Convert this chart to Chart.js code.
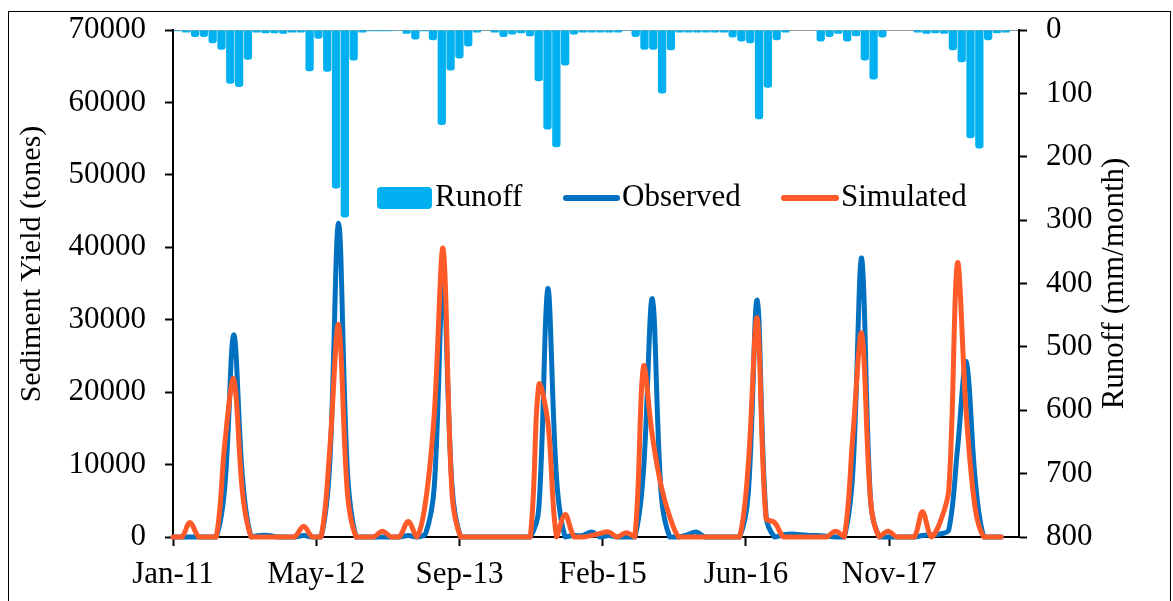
<!DOCTYPE html>
<html>
<head>
<meta charset="utf-8">
<title>Sediment yield and runoff</title>
<script src="https://cdn.jsdelivr.net/npm/chart.js@4.4.1/dist/chart.umd.min.js"></script>
<style>
    html, body { margin: 0; padding: 0; background: #fff; overflow: hidden; }
    #wrap { position: relative; width: 1173px; height: 601px; }
    #chart { position: absolute; left: 0; top: 0; }
    #frame { position: absolute; left: 8px; top: 11px; width: 1161px; height: 640px; border: 1px solid #000; pointer-events: none; }
</style>
</head>
<body>
<div id="wrap">
    <canvas id="chart" width="1173" height="601"></canvas>
    <div id="frame"></div>
</div>
<script>
// Monthly series, Jan 2011 - Dec 2018
const years = [2011, 2012, 2013, 2014, 2015, 2016, 2017, 2018];
const monthNames = ['Jan', 'Feb', 'Mar', 'Apr', 'May', 'Jun', 'Jul', 'Aug', 'Sep', 'Oct', 'Nov', 'Dec'];

// Runoff (mm/month), secondary axis (inverted)
const runoff = [
    2, 4, 11, 11, 21, 31, 85, 90, 47, 4, 5, 5,
    6, 4, 4, 65, 14, 66, 250, 296, 48, 4, 2, 2,
    2, 1, 6, 15, 2, 16, 150, 64, 45, 26, 4, 1,
    4, 11, 7, 5, 10, 81, 157, 185, 56, 7, 4, 4,
    4, 4, 4, 1, 11, 31, 31, 100, 32, 4, 4, 4,
    4, 4, 4, 12, 18, 21, 141, 91, 16, 4, 0, 0,
    0, 18, 11, 6, 18, 10, 48, 78, 12, 0, 0, 0,
    4, 6, 5, 6, 32, 51, 171, 187, 16, 5, 4, 1
];

// Sediment yield (tones)
const observed = [
    0, 0, 0, 0, 0, 0, 7000, 27900, 8000, 0, 200, 200,
    0, 0, 0, 200, 0, 0, 10000, 43300, 9000, 0, 0, 0,
    0, 0, 0, 200, 0, 500, 7000, 35400, 7000, 0, 0, 0,
    0, 0, 0, 0, 0, 0, 4000, 34300, 8000, 0, 200, 200,
    700, 0, 200, 0, 0, 0, 9000, 32900, 6000, 0, 0, 300,
    700, 0, 0, 0, 0, 0, 6000, 32700, 3000, 0, 300, 400,
    300, 200, 200, 100, 0, 0, 9000, 38500, 5000, 0, 0, 0,
    0, 0, 200, 300, 400, 1000, 12000, 24200, 8000, 0, 0, 0
];

const simulated = [
    0, 0, 2000, 0, 0, 0, 13000, 21800, 6000, 0, 0, 0,
    0, 0, 0, 1500, 0, 0, 12000, 29300, 6000, 0, 0, 0,
    800, 0, 0, 2150, 0, 5000, 17000, 39800, 6000, 0, 0, 0,
    0, 0, 0, 0, 0, 0, 21000, 16000, 0, 3100, 0, 0,
    200, 500, 700, 0, 600, 0, 23500, 14000, 7000, 2800, 0, 0,
    0, 0, 0, 0, 0, 0, 10000, 30200, 2600, 2000, 0, 0,
    0, 0, 0, 0, 800, 0, 14000, 28100, 5000, 0, 800, 0,
    0, 0, 3500, 0, 2000, 6500, 37800, 17000, 4000, 0, 0, 0
];

// Date axis ticks (every 500 days from Jan-11)
const tickDates = ['2011-01-01', '2012-05-15', '2013-09-27', '2015-02-09', '2016-06-23', '2017-11-05'];
const tickLabels = ['Jan-11', 'May-12', 'Sep-13', 'Feb-15', 'Jun-16', 'Nov-17'];
const axisStart = '2011-01-01';
const axisEnd = '2019-02-01';

const leftTitle = 'Sediment Yield (tones)';
const rightTitle = 'Runoff (mm/month)';

function dayOf(str) {
    return (Date.parse(str) - Date.parse(axisStart)) / 86400000;
}

const months = [];
const monthDays = [];
years.forEach(y => {
    monthNames.forEach((m, mi) => {
        months.push(m + '-' + String(y).slice(2));
        monthDays.push((Date.UTC(y, mi, 1) - Date.parse(axisStart)) / 86400000);
    });
});
const tickDays = tickDates.map(dayOf);

const font = { family: '"Liberation Serif", "Times New Roman", serif', size: 31 };

// vertical axes: fixed width, and don't let the label padding push the plot down
function fixWidth(w) {
    return s => {
        s.width = w;
        s.paddingTop = 0;
        s.paddingBottom = 0;
    };
}

function verticalText(ctx, text, x, y, size) {
    ctx.save();
    ctx.font = size + 'px "Liberation Serif", serif';
    ctx.translate(x, y);
    ctx.rotate(-Math.PI / 2);
    ctx.textAlign = 'center';
    ctx.fillText(text, 0, 0);
    ctx.restore();
}

// legend + axis titles (both read bottom to top, like Excel)
const overlay = {
    id: 'overlay',
    afterDraw(chart) {
        const { ctx, chartArea } = chart;
        const ds = chart.data.datasets;
        ctx.save();
        ctx.fillStyle = '#000';
        ctx.textBaseline = 'middle';

        verticalText(ctx, leftTitle, 32, 264, 30);
        verticalText(ctx, rightTitle, 1115, (chartArea.top + chartArea.bottom) / 2, 31);

        const ly = 198;
        ctx.font = '31px "Liberation Serif", serif';
        ctx.textAlign = 'left';
        // Runoff swatch
        ctx.fillStyle = ds[0].backgroundColor;
        ctx.beginPath();
        ctx.roundRect(377, 187, 55, 22, 4);
        ctx.fill();
        ctx.fillStyle = '#000';
        ctx.fillText(ds[0].label, 435, ly);

        // line swatches
        [[ds[1], 566, 617, 622], [ds[2], 784, 836, 841]].forEach(([d, x0, x1, tx]) => {
            ctx.strokeStyle = d.borderColor;
            ctx.lineWidth = 6;
            ctx.lineCap = 'round';
            ctx.beginPath();
            ctx.moveTo(x0, ly);
            ctx.lineTo(x1, ly);
            ctx.stroke();
            ctx.fillText(d.label, tx, ly);
        });
        ctx.restore();
    }
};

const ctx = document.getElementById('chart').getContext('2d');
new Chart(ctx, {
    data: {
        labels: months,
        datasets: [
            {
                type: 'bar',
                label: 'Runoff',
                data: runoff,
                xAxisID: 'xBar',
                yAxisID: 'y2',
                backgroundColor: '#00B0F0',
                borderRadius: 3,
                grouped: false,
                barPercentage: 0.94,
                categoryPercentage: 1,
                order: 3
            },
            {
                type: 'line',
                label: 'Observed',
                data: observed.map((v, i) => ({ x: monthDays[i], y: v })),
                xAxisID: 'x',
                yAxisID: 'y',
                borderColor: '#0070C0',
                borderWidth: 5,
                borderCapStyle: 'round',
                borderJoinStyle: 'round',
                pointRadius: 0,
                tension: 0.35,
                clip: 4,
                order: 2
            },
            {
                type: 'line',
                label: 'Simulated',
                data: simulated.map((v, i) => ({ x: monthDays[i], y: v })),
                xAxisID: 'x',
                yAxisID: 'y',
                borderColor: '#FF5A28',
                borderWidth: 5,
                borderCapStyle: 'round',
                borderJoinStyle: 'round',
                pointRadius: 0,
                tension: 0.35,
                clip: 4,
                order: 1
            }
        ]
    },
    options: {
        responsive: false,
        animation: false,
        devicePixelRatio: 1,
        layout: { padding: { top: 30, left: 0, right: 0, bottom: 0 } },
        plugins: {
            legend: { display: false },
            tooltip: { enabled: false }
        },
        scales: {
            x: {
                type: 'linear',
                position: 'bottom',
                min: 0,
                max: dayOf(axisEnd),
                afterBuildTicks: s => { s.ticks = tickDays.map(v => ({ value: v })); },
                afterFit: s => { s.height = 64; },
                ticks: {
                    callback: (v, i) => tickLabels[i],
                    font: font,
                    color: '#000',
                    padding: 10,
                    maxRotation: 0,
                    autoSkip: false
                },
                grid: { drawOnChartArea: false, tickLength: 9, tickWidth: 2, tickColor: '#000' },
                border: { color: '#000', width: 2 }
            },
            xBar: {
                type: 'category',
                position: 'top',
                offset: true,
                afterFit: s => { s.height = 0; },
                ticks: { display: false },
                grid: { display: false, drawTicks: false },
                border: { color: '#9a9a9a', width: 1 }
            },
            y: {
                position: 'left',
                min: 0,
                max: 70000,
                afterFit: fixWidth(173),
                ticks: {
                    stepSize: 10000,
                    callback: v => String(v),
                    font: font,
                    color: '#000',
                    padding: 19
                },
                grid: { drawOnChartArea: false, tickLength: 8, tickWidth: 2, tickColor: '#000' },
                border: { color: '#000', width: 2 }
            },
            y2: {
                position: 'right',
                reverse: true,
                min: 0,
                max: 800,
                afterFit: fixWidth(154),
                ticks: {
                    stepSize: 100,
                    callback: v => String(v),
                    font: font,
                    color: '#000',
                    padding: 19
                },
                grid: { drawOnChartArea: false, tickLength: 8, tickWidth: 2, tickColor: '#000' },
                border: { color: '#000', width: 2 }
            }
        }
    },
    plugins: [overlay]
});
</script>
</body>
</html>
